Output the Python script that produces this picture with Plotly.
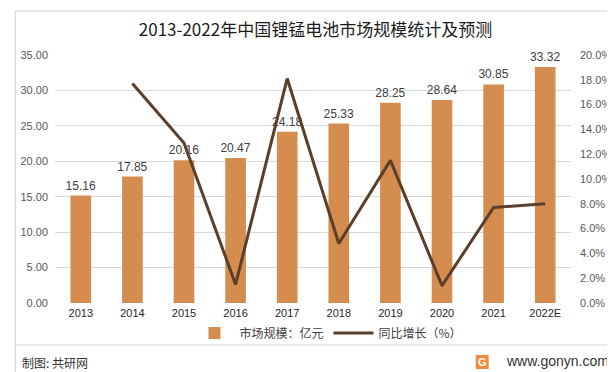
import plotly.graph_objects as go

years = ["2013", "2014", "2015", "2016", "2017", "2018", "2019", "2020", "2021", "2022E"]
market_size = [15.16, 17.85, 20.16, 20.47, 24.18, 25.33, 28.25, 28.64, 30.85, 33.32]
growth_pct = [None, 17.7, 12.9, 1.5, 18.1, 4.8, 11.5, 1.4, 7.7, 8.0]
left_ticks = [0, 5, 10, 15, 20, 25, 30, 35]
right_ticks = [0, 2, 4, 6, 8, 10, 12, 14, 16, 18, 20]

FONT = "Noto Sans CJK SC, Microsoft YaHei, sans-serif"
NUMFONT = "Liberation Sans, Arial, sans-serif"
BAR_COLOR = "#D48C4F"
LINE_COLOR = "#5B3F2B"

L, R, T, B = 45, 50, 47, 77
PW, PH = 615 - L - R, 372 - T - B


def px(x):
    return (x - L) / PW


def py(y):
    return (372 - B - y) / PH


fig = go.Figure()
fig.add_trace(go.Bar(
    x=years, y=market_size, name="市场规模：亿元",
    marker=dict(color=BAR_COLOR, line=dict(width=0)),
    text=[f"{v:.2f}" for v in market_size], textposition="outside",
    constraintext="none",
    textfont=dict(size=12, color="#404040", family=NUMFONT),
    cliponaxis=False, yaxis="y",
))
fig.add_trace(go.Scatter(
    x=years, y=growth_pct, name="同比增长（%）", mode="lines",
    line=dict(color=LINE_COLOR, width=3), yaxis="y2", connectgaps=False,
))

fig.update_layout(
    width=615, height=372,
    margin=dict(l=L, r=R, t=T, b=B),
    paper_bgcolor="white", plot_bgcolor="white",
    font=dict(family=FONT, size=11, color="#595959"),
    bargap=0.6,
    showlegend=True,
    title=dict(text="2013-2022年中国锂锰电池市场规模统计及预测", x=0.5, xanchor="center",
               y=1 - 22 / 372, yanchor="middle", font=dict(size=17, color="#1a1a1a", family=FONT)),
    xaxis=dict(type="category", showgrid=False, showline=False, ticks="",
               tickfont=dict(size=11, color="#262626", family=NUMFONT),
               ticklabelstandoff=2),
    yaxis=dict(range=[0, 35], tickvals=left_ticks, ticktext=[f"{v:.2f}" for v in left_ticks],
               showgrid=True, gridcolor="#D9D9D9", gridwidth=1, zeroline=False, showline=False,
               tickfont=dict(size=11, color="#595959", family=NUMFONT),
               ticklabelstandoff=6),
    yaxis2=dict(range=[0, 20], tickvals=right_ticks, ticktext=[f"{v:.1f}%" for v in right_ticks],
                overlaying="y", side="right", showgrid=False, zeroline=False, showline=False,
                tickfont=dict(size=11, color="#595959", family=NUMFONT),
                ticklabelstandoff=8),
    legend=dict(orientation="h", x=0.53, xanchor="center", y=py(325), yanchor="middle",
                font=dict(size=12, color="#404040", family=FONT), itemwidth=40,
                bgcolor="rgba(0,0,0,0)"),
)

# outer border and footer separator
fig.add_shape(type="rect", xref="paper", yref="paper", x0=px(5), x1=px(608),
              y0=py(367), y1=py(3), line=dict(color="#D0D0D0", width=1), layer="below")
fig.add_shape(type="line", xref="paper", yref="paper", x0=px(5), x1=px(608),
              y0=py(337), y1=py(337), line=dict(color="#D9D9D9", width=1))
# footer texts
fig.add_annotation(text="制图: 共研网", xref="paper", yref="paper", x=px(10), xanchor="left",
                   y=py(354), yanchor="middle", showarrow=False,
                   font=dict(size=12, color="#333333", family=FONT))
fig.add_shape(type="rect", xref="paper", yref="paper", x0=px(469), x1=px(482),
              y0=py(361), y1=py(347), fillcolor="#F08A3C", line=dict(width=0))
fig.add_annotation(text="<b>G</b>", xref="paper", yref="paper", x=px(475.5), xanchor="center",
                   y=py(354), yanchor="middle", showarrow=False,
                   font=dict(size=11, color="white", family=NUMFONT))
fig.add_annotation(text="www.gonyn.com", xref="paper", yref="paper", x=px(605), xanchor="right",
                   y=py(353), yanchor="middle", showarrow=False,
                   font=dict(size=14, color="#333333", family=NUMFONT))

fig.write_html("out.html")
